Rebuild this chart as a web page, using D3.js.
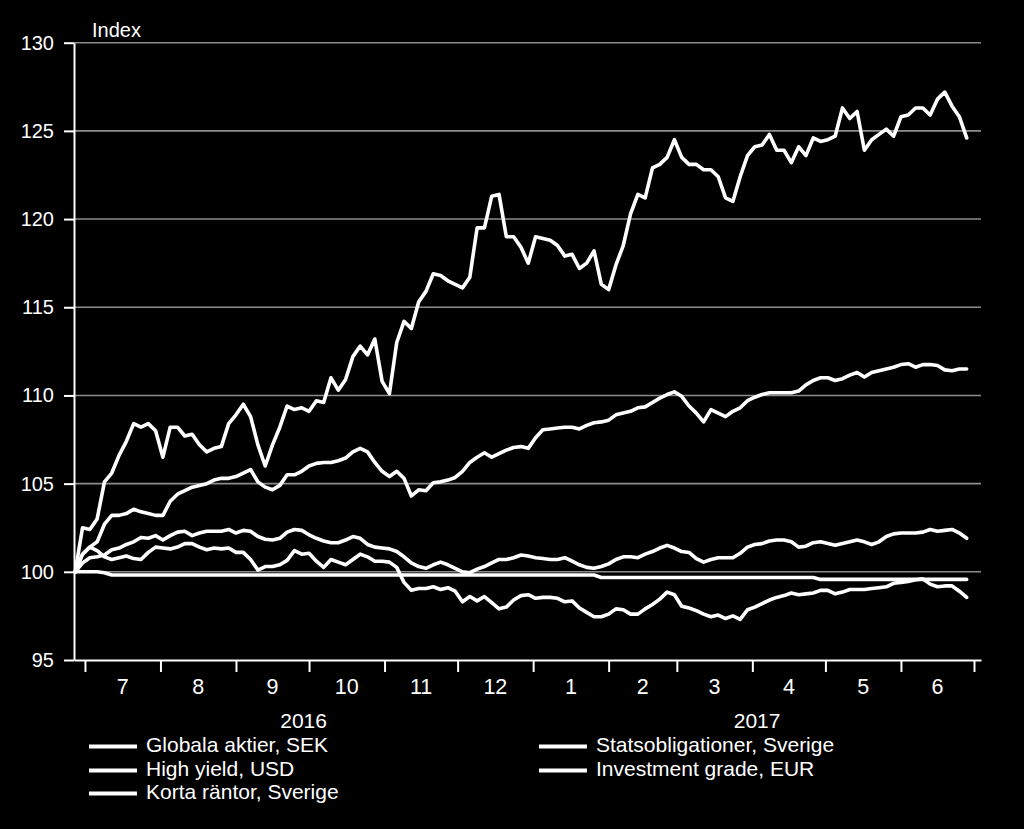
<!DOCTYPE html>
<html>
<head>
<meta charset="utf-8">
<script src="https://cdn.jsdelivr.net/npm/d3@7"></script>
<style>
  html, body { margin: 0; padding: 0; background: #000; }
  svg text { font-family: "Liberation Sans", Arial, sans-serif; fill: #fff; }
</style>
</head>
<body>
<svg id="chart" width="1024" height="829"></svg>
<script>
// days since 2016-06-27 (index = 100 on start day)
var days = [
  0, 3, 6, 9, 12, 15, 18, 21, 24, 27, 30, 33, 36, 39, 42, 45, 48, 51, 54, 57,
  60, 63, 66, 69, 72, 75, 78, 81, 84, 87, 90, 93, 96, 99, 102, 105, 108, 111, 114, 117,
  120, 123, 126, 129, 132, 135, 138, 141, 144, 147, 150, 153, 156, 159, 162, 165, 168, 171, 174, 177,
  180, 183, 186, 189, 192, 195, 198, 201, 204, 207, 210, 213, 216, 219, 222, 225, 228, 231, 234, 237,
  240, 243, 246, 249, 252, 255, 258, 261, 264, 267, 270, 273, 276, 279, 282, 285, 288, 291, 294, 297,
  300, 303, 306, 309, 312, 315, 318, 321, 324, 327, 330, 333, 336, 339, 342, 345, 348, 351, 354, 357,
  360, 363, 366
];

var globalaAktier = [
  100, 102.5, 102.4, 103.0, 105.1, 105.6, 106.6, 107.4, 108.4, 108.2,
  108.4, 108.0, 106.5, 108.2, 108.2, 107.7, 107.8, 107.2, 106.8, 107.0,
  107.1, 108.4, 108.9, 109.5, 108.8, 107.2, 106.0, 107.2, 108.2, 109.4,
  109.2, 109.3, 109.1, 109.7, 109.6, 111.0, 110.3, 110.9, 112.2, 112.8,
  112.3, 113.2, 110.8, 110.1, 113.0, 114.2, 113.8, 115.3, 115.9, 116.9,
  116.8, 116.5, 116.3, 116.1, 116.7, 119.5, 119.5, 121.3, 121.4, 119.0,
  119.0, 118.4, 117.5, 119.0, 118.9, 118.8, 118.5, 117.9, 118.0, 117.2,
  117.5, 118.2, 116.3, 116.0, 117.4, 118.5, 120.3, 121.4, 121.2, 122.9,
  123.1, 123.5, 124.5, 123.5, 123.1, 123.1, 122.8, 122.8, 122.4, 121.2,
  121.0, 122.4, 123.6, 124.1, 124.2, 124.8, 123.9, 123.9, 123.2, 124.1,
  123.6, 124.6, 124.4, 124.5, 124.7, 126.3, 125.7, 126.1, 123.9, 124.5,
  124.8, 125.1, 124.7, 125.8, 125.9, 126.3, 126.3, 125.9, 126.8, 127.2,
  126.4, 125.8, 124.6
];

var highYield = [
  100, 101.0, 101.4, 101.7, 102.7, 103.2, 103.2, 103.3, 103.55, 103.4,
  103.3, 103.2, 103.2, 104.0, 104.4, 104.6, 104.8, 104.9, 105.0, 105.2,
  105.3, 105.3, 105.4, 105.6, 105.8, 105.1, 104.8, 104.65, 104.9, 105.5,
  105.5, 105.7, 106.0, 106.15, 106.2, 106.2, 106.3, 106.45, 106.8, 107.0,
  106.8, 106.2, 105.7, 105.4, 105.7, 105.3, 104.3, 104.65, 104.6, 105.05,
  105.1, 105.2, 105.35, 105.7, 106.2, 106.5, 106.75, 106.5, 106.7, 106.9,
  107.05, 107.1, 107.0, 107.6, 108.05, 108.1, 108.15, 108.2, 108.2, 108.1,
  108.3, 108.45, 108.5, 108.6, 108.9, 109.0, 109.1, 109.3, 109.35, 109.6,
  109.85, 110.05, 110.2, 109.95, 109.4, 109.0, 108.5, 109.2, 109.0, 108.8,
  109.1, 109.3, 109.7, 109.9, 110.05, 110.15, 110.15, 110.15, 110.15, 110.25,
  110.6, 110.85, 111.0, 111.0, 110.85, 110.95, 111.15, 111.3, 111.05, 111.3,
  111.4, 111.5, 111.6, 111.75, 111.8, 111.6, 111.75, 111.75, 111.7, 111.45,
  111.4, 111.5, 111.5
];

var investmentGrade = [
  100, 100.5, 100.8, 100.85, 100.95, 101.25, 101.35, 101.55, 101.7, 101.95,
  101.9, 102.05, 101.8, 102.05, 102.25, 102.3, 102.05, 102.2, 102.3, 102.3,
  102.3, 102.4, 102.2, 102.35, 102.3, 102.0, 101.85, 101.8, 101.9, 102.25,
  102.4, 102.35, 102.1, 101.9, 101.75, 101.65, 101.65, 101.8, 102.0, 101.9,
  101.55, 101.4, 101.35, 101.3, 101.15, 100.85, 100.5, 100.3, 100.2, 100.4,
  100.55, 100.4, 100.2, 100.0, 99.95, 100.15, 100.3, 100.5, 100.7, 100.7,
  100.8, 100.95, 100.9, 100.8, 100.75, 100.7, 100.7, 100.8, 100.6, 100.4,
  100.25, 100.2, 100.3, 100.45, 100.7, 100.85, 100.85, 100.8, 101.0, 101.15,
  101.35, 101.5, 101.35, 101.15, 101.1, 100.75, 100.55, 100.7, 100.8, 100.8,
  100.8, 101.05, 101.4, 101.55, 101.6, 101.75, 101.8, 101.8, 101.7, 101.4,
  101.45, 101.65, 101.7, 101.6, 101.5, 101.6, 101.7, 101.8, 101.7, 101.55,
  101.7, 102.0, 102.15, 102.2, 102.2, 102.2, 102.25, 102.4, 102.3, 102.35,
  102.4, 102.2, 101.9
];

var statsobligationer = [
  100, 101.0, 101.4, 101.2, 100.85, 100.7, 100.8, 100.9, 100.75, 100.7,
  101.1, 101.4, 101.35, 101.3, 101.4, 101.6, 101.6, 101.4, 101.25, 101.35,
  101.3, 101.35, 101.1, 101.1, 100.7, 100.1, 100.3, 100.3, 100.4, 100.65,
  101.2, 101.0, 101.05, 100.6, 100.25, 100.7, 100.55, 100.4, 100.7, 101.0,
  100.85, 100.6, 100.6, 100.55, 100.25, 99.4, 98.95, 99.05, 99.05, 99.15,
  99.0, 99.1, 98.9, 98.3, 98.6, 98.35, 98.6, 98.25, 97.9, 98.0,
  98.4, 98.65, 98.7, 98.5, 98.55, 98.55, 98.5, 98.3, 98.35, 97.95,
  97.7, 97.45, 97.45, 97.6, 97.9, 97.85, 97.6, 97.6, 97.9, 98.15,
  98.45, 98.85, 98.7, 98.05, 97.95, 97.8, 97.6, 97.45, 97.55, 97.35,
  97.5, 97.3, 97.85, 98.0, 98.2, 98.4, 98.55, 98.65, 98.8, 98.7,
  98.75, 98.8, 98.95, 98.95, 98.75, 98.85, 99.0, 99.0, 99.0, 99.05,
  99.1, 99.15, 99.35, 99.4, 99.45, 99.55, 99.6, 99.3, 99.15, 99.2,
  99.2, 98.9, 98.55
];

var kortaRantor = [
  100, 100, 100, 100, 99.95, 99.82, 99.82, 99.82, 99.82, 99.82,
  99.82, 99.82, 99.82, 99.82, 99.82, 99.82, 99.82, 99.82, 99.82, 99.82,
  99.82, 99.82, 99.82, 99.82, 99.82, 99.82, 99.82, 99.82, 99.82, 99.82,
  99.82, 99.82, 99.82, 99.82, 99.82, 99.82, 99.82, 99.82, 99.82, 99.82,
  99.82, 99.82, 99.82, 99.82, 99.82, 99.82, 99.82, 99.82, 99.82, 99.82,
  99.82, 99.82, 99.82, 99.82, 99.82, 99.82, 99.82, 99.82, 99.82, 99.82,
  99.82, 99.82, 99.82, 99.82, 99.82, 99.82, 99.82, 99.82, 99.82, 99.82,
  99.82, 99.82, 99.68, 99.68, 99.68, 99.68, 99.68, 99.68, 99.68, 99.68,
  99.68, 99.68, 99.68, 99.68, 99.68, 99.68, 99.68, 99.68, 99.68, 99.68,
  99.68, 99.68, 99.68, 99.68, 99.68, 99.68, 99.68, 99.68, 99.68, 99.68,
  99.68, 99.68, 99.57, 99.57, 99.57, 99.57, 99.57, 99.57, 99.57, 99.57,
  99.57, 99.57, 99.57, 99.57, 99.57, 99.57, 99.57, 99.57, 99.57, 99.57,
  99.57, 99.57, 99.57
];

var yTicks = [95, 100, 105, 110, 115, 120, 125, 130];
var monthLabels = ["7", "8", "9", "10", "11", "12", "1", "2", "3", "4", "5", "6"];
var yearLabels = ["2016", "2017"];
var legendNames = ["Globala aktier, SEK", "High yield, USD", "Korta räntor, Sverige",
                   "Statsobligationer, Sverige", "Investment grade, EUR"];

var dates = days.map(function(d) { return new Date(2016, 5, 27 + d); });

var svg = d3.select("#chart");

var x = d3.scaleTime()
  .domain([new Date(2016, 5, 26, 12), new Date(2017, 6, 3, 21)])
  .range([74, 981]);
var y = d3.scaleLinear().domain([95, 130]).range([660, 42.7]);

// gridlines
svg.append("g").selectAll("line")
  .data(yTicks.filter(function(t) { return t > 95; }))
  .enter().append("line")
  .attr("x1", x.range()[0]).attr("x2", x.range()[1])
  .attr("y1", function(d) { return y(d); })
  .attr("y2", function(d) { return y(d); })
  .attr("stroke", "#8c8c8c")
  .attr("stroke-width", 1.6);

// series
var series = [globalaAktier, highYield, investmentGrade, statsobligationer, kortaRantor];
var line = d3.line()
  .x(function(d, i) { return x(dates[i]); })
  .y(function(d) { return y(d); });

svg.append("g").selectAll("path")
  .data(series)
  .enter().append("path")
  .attr("d", line)
  .attr("fill", "none")
  .attr("stroke", "#fff")
  .attr("stroke-width", 3.6)
  .attr("stroke-linejoin", "round")
  .attr("stroke-linecap", "round");

// y axis
var yAxis = svg.append("g")
  .attr("transform", "translate(74,0)")
  .call(d3.axisLeft(y).tickValues(yTicks).tickSize(10).tickSizeOuter(0).tickPadding(10));

// x axis with month boundaries
var monthStarts = d3.timeMonth.range(new Date(2016, 6, 1), new Date(2017, 6, 2));
var xAxis = svg.append("g")
  .attr("transform", "translate(0,660)")
  .call(d3.axisBottom(x).tickValues(monthStarts).tickSize(12).tickSizeOuter(0).tickFormat(""));

[yAxis, xAxis].forEach(function(g) {
  g.select(".domain").attr("stroke", "#fff").attr("stroke-width", 2);
  g.selectAll(".tick line").attr("stroke", "#fff").attr("stroke-width", 2);
  g.selectAll("text").attr("fill", "#fff").style("font-size", "20px")
    .style("font-family", "'Liberation Sans', Arial, sans-serif");
});

// month labels centred between boundaries
svg.append("g").selectAll("text")
  .data(monthLabels)
  .enter().append("text")
  .attr("x", function(d, i) { return (x(monthStarts[i]) + x(monthStarts[i + 1])) / 2; })
  .attr("y", 694)
  .attr("text-anchor", "middle")
  .style("font-size", "21.5px")
  .text(function(d) { return d; });

// year labels
var yearSpans = [[x.domain()[0], new Date(2017, 0, 1)], [new Date(2017, 0, 1), x.domain()[1]]];
svg.append("g").selectAll("text")
  .data(yearLabels)
  .enter().append("text")
  .attr("x", function(d, i) { return (x(yearSpans[i][0]) + x(yearSpans[i][1])) / 2; })
  .attr("y", 728)
  .attr("text-anchor", "middle")
  .style("font-size", "21px")
  .text(function(d) { return d; });

// axis title
svg.append("text")
  .attr("x", 92).attr("y", 37)
  .style("font-size", "20px")
  .text("Index");

// legend
var legendPos = [[89, 752], [89, 776], [89, 799], [539, 752], [539, 776]];
var legend = svg.append("g").selectAll("g")
  .data(legendNames)
  .enter().append("g")
  .attr("transform", function(d, i) { return "translate(" + legendPos[i][0] + "," + legendPos[i][1] + ")"; });

legend.append("line")
  .attr("x1", 0).attr("x2", 48)
  .attr("y1", -5.5).attr("y2", -5.5)
  .attr("stroke", "#fff")
  .attr("stroke-width", 4);

legend.append("text")
  .attr("x", 57).attr("y", 0)
  .style("font-size", "21px")
  .text(function(d) { return d; });
</script>
</body>
</html>
